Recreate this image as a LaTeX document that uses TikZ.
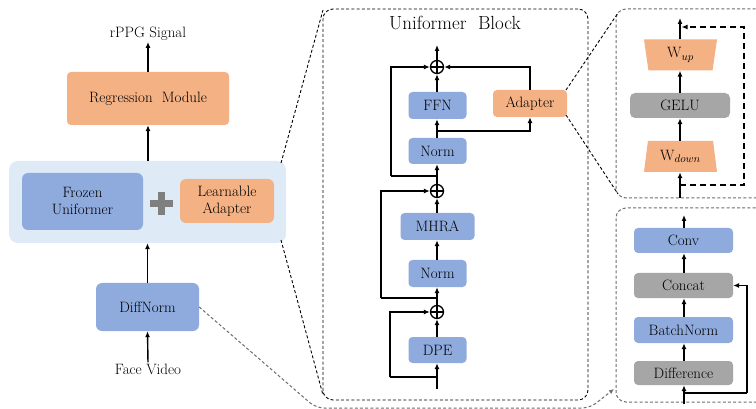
\documentclass[tikz,border=0pt]{standalone}
\usetikzlibrary{arrows.meta,shapes.geometric,calc}
\definecolor{corange}{HTML}{F4B183}
\definecolor{cblue}{HTML}{8FAADC}
\definecolor{cgray}{HTML}{A6A6A6}
\definecolor{clight}{HTML}{DEEBF7}
\definecolor{cplus}{HTML}{7F7F7F}
\definecolor{cdash}{HTML}{6E6E6E}
\tikzset{
  box/.style={rounded corners=4pt, inner sep=0pt, align=center, font=\fontsize{15}{17}\selectfont},
  obox/.style={box, fill=corange},
  bbox/.style={box, fill=cblue},
  gbox/.style={box, fill=cgray},
  lbl/.style={font=\fontsize{15}{17}\selectfont, inner sep=1pt},
  tip/.style={-{Latex[length=6pt,width=5pt]}},
  arr/.style={tip, line width=1.4pt},
  ln/.style={line width=1.4pt},
  opl/.style={circle, draw, line width=1.3pt, minimum size=13pt, inner sep=0pt,
    path picture={\draw[line width=1.3pt] (path picture bounding box.north) -- (path picture bounding box.south)
      (path picture bounding box.west) -- (path picture bounding box.east);}},
  trap/.style={trapezium, trapezium angle=73, trapezium stretches body, fill=corange, inner sep=0pt,
    minimum width=73pt, minimum height=31pt, font=\fontsize{15}{17}\selectfont},
  blackdash/.style={line width=0.9pt, dash pattern=on 3pt off 2.2pt},
  graydash/.style={draw=cdash, line width=1pt, dash pattern=on 3pt off 2.2pt},
  thickdash/.style={line width=1.8pt, dash pattern=on 6pt off 4pt}
}
\begin{document}
\begin{tikzpicture}[x=1pt,y=-1pt]
\clip (0,0) rectangle (756,409);
\fill[white] (0,0) rectangle (756,409);

% ---------------- left column ----------------
\node[lbl] (rppg) at (148,34) {rPPG Signal};
\node[obox, minimum width=162pt, minimum height=53pt] (reg) at (148,98.5) {Regression\ \ Module};
\node[box, fill=clight, rounded corners=9pt, minimum width=277pt, minimum height=82pt] (enc) at (147.5,202) {};
\node[bbox, rounded corners=6pt, minimum width=121pt, minimum height=57pt] (frozen) at (82.5,201.5) {Frozen\\Uniformer};
\node[inner sep=0pt, minimum size=22pt] (plus) at (161.5,203.5) {};
\draw[cplus, line width=7pt] (plus.west) -- (plus.east) (plus.north) -- (plus.south);
\node[obox, rounded corners=6pt, minimum width=94pt, minimum height=44pt] (learn) at (227,201) {Learnable\\Adapter};
\node[bbox, rounded corners=6pt, minimum width=103pt, minimum height=48pt] (dn) at (147.5,307) {DiffNorm};
\node[lbl] (face) at (148,369) {Face Video};

\draw[arr] (reg.north) -- (rppg.south);
\draw[arr] (enc.north -| reg.north) -- (reg.south);
\draw[arr] (dn.north) -- (enc.south -| dn.north);
\draw[arr] (face.north) -- (dn.south);

% ---------------- Uniformer block ----------------
\node[draw, blackdash, rounded corners=10pt, minimum width=265pt, minimum height=391pt, inner sep=0pt] (ublock) at (455.5,204.5) {};
\node[font=\fontsize{19}{21}\selectfont, inner sep=0pt] (utitle) at (455,23) {Uniformer\ \ Block};

\node[opl] (o1) at (437,67) {};
\node[bbox, minimum width=58pt, minimum height=27pt] (ffn) at (437.5,105.5) {FFN};
\node[obox, minimum width=74pt, minimum height=27pt] (ad) at (530,103.5) {Adapter};
\node[bbox, minimum width=58pt, minimum height=26pt] (norm1) at (437.5,151) {Norm};
\node[opl] (o2) at (437,191) {};
\node[bbox, minimum width=74pt, minimum height=27pt] (mhra) at (437.5,226.5) {MHRA};
\node[bbox, minimum width=58pt, minimum height=27pt] (norm2) at (437.5,273.5) {Norm};
\node[opl] (o3) at (437,312) {};
\node[bbox, minimum width=58pt, minimum height=26pt] (dpe) at (437.5,350) {DPE};

\coordinate (t1) at (437,45);
\coordinate (b1) at (437,131);
\coordinate (s1) at (437,176);
\coordinate (s1l) at (391,176);
\coordinate (s2) at (437,298);
\coordinate (s2l) at (381,298);
\coordinate (s3) at (437,377);
\coordinate (s3l) at (390,377);
\coordinate (in1) at (437,389);

\draw[arr] (o1.north) -- (t1);
\draw[arr] (ffn.north -| o1) -- (o1.south);
\draw[arr] (ad.north) |- (o1.east);
\draw[arr] (norm1.north -| o1) -- (ffn.south -| o1);
\draw[arr] (b1) -| (ad.south);
\draw[arr] (o2.north) -- (norm1.south -| o2);
\draw[ln] (s1) -- (s1l);
\draw[arr] (s1l) |- (o1.west);
\draw[arr] (mhra.north -| o2) -- (o2.south);
\draw[arr] (norm2.north -| o2) -- (mhra.south -| o2);
\draw[arr] (o3.north) -- (norm2.south -| o3);
\draw[ln] (s2) -- (s2l);
\draw[arr] (s2l) |- (o2.west);
\draw[arr] (dpe.north -| o3) -- (o3.south);
\draw[arr] (in1) -- (dpe.south -| in1);
\draw[ln] (s3) -- (s3l);
\draw[arr] (s3l) |- (o3.west);

% ---------------- Adapter detail ----------------
\node[draw, graydash, rounded corners=10pt, minimum width=160pt, minimum height=189pt, inner sep=0pt] (adbox) at (696,103.5) {};
\node[trap, shape border rotate=180] (wup) at (680.5,55) {W$_{up}$};
\node[gbox, rounded corners=5pt, minimum width=100pt, minimum height=25pt] (gelu) at (680,105.5) {GELU};
\node[trap] (wdown) at (680.5,156.5) {W$_{down}$};
\coordinate (t2) at (680,18);
\coordinate (in2) at (680,198);
\coordinate (sk2) at (680,185);
\coordinate (sk2r) at (744,185);
\coordinate (sk2t) at (744,27);
\coordinate (sk2e) at (681.5,27);
\draw[arr] (wup.north -| t2) -- (t2);
\draw[arr] (gelu.north -| t2) -- (wup.south -| t2);
\draw[arr] (wdown.north -| t2) -- (gelu.south -| t2);
\draw[arr] (in2) -- (wdown.south -| in2);
\draw[thickdash, tip] (sk2) -- (sk2r) -- (sk2t) -- (sk2e);

% ---------------- DiffNorm detail ----------------
\node[draw, graydash, rounded corners=10pt, minimum width=160pt, minimum height=194pt, inner sep=0pt] (dnbox) at (696,305) {};
\node[bbox, minimum width=99pt, minimum height=25pt] (conv) at (683.5,240.5) {Conv};
\node[gbox, minimum width=99pt, minimum height=25pt] (concat) at (683.5,285.5) {Concat};
\node[bbox, minimum width=99pt, minimum height=26pt] (bn) at (683.5,330) {BatchNorm};
\node[gbox, minimum width=99pt, minimum height=24pt] (diff) at (683.5,373) {Difference};
\coordinate (t3) at (684,215);
\coordinate (in3) at (684,404);
\coordinate (sk3) at (684,393);
\coordinate (sk3r) at (747,393);
\draw[arr] (conv.north -| t3) -- (t3);
\draw[arr] (concat.north -| t3) -- (conv.south -| t3);
\draw[arr] (bn.north -| t3) -- (concat.south -| t3);
\draw[arr] (diff.north -| t3) -- (bn.south -| t3);
\draw[arr] (in3) -- (diff.south -| in3);
\draw[ln] (sk3) -- (sk3r);
\draw[arr] (sk3r) |- (concat.east);

% ---------------- zoom lines ----------------
\coordinate (z1a) at (281,163);
\coordinate (z1b) at (323,10);
\coordinate (z2a) at (281,240);
\coordinate (z2b) at (323,395);
\draw[blackdash] (z1a) -- (z1b);
\draw[blackdash] (z2a) -- (z2b);
\coordinate (z3a) at (566,90);
\coordinate (z3b) at (618,13);
\coordinate (z4a) at (566,115);
\coordinate (z4b) at (618,194);
\draw[blackdash] (z3a) -- (z3b);
\draw[blackdash] (z4a) -- (z4b);
\coordinate (z5a) at (316,408);
\coordinate (z5b) at (590,408);
\coordinate (z5c) at (614,389);
\draw[graydash, rounded corners=8pt, -{Latex[length=5pt,width=4.5pt]}] (dn.east) -- (z5a) -- (z5b) -- (z5c);
\end{tikzpicture}
\end{document}
